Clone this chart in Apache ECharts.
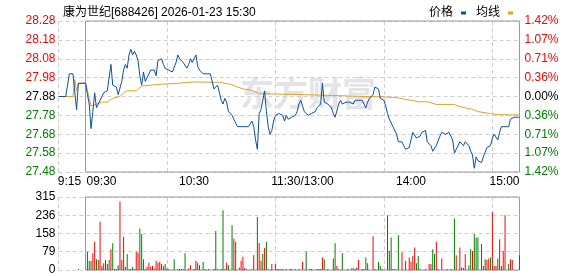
<!DOCTYPE html>
<html><head><meta charset="utf-8">
<script src="https://cdn.jsdelivr.net/npm/echarts@6/dist/echarts.min.js"></script>
<style>html,body{margin:0;padding:0;background:#fff}#c{width:578px;height:276px}</style>
</head><body><div id="c"></div>
<script>
// ---------- data ----------
const titleText = '康为世纪[688426] 2026-01-23 15:30';
const prevClose = 27.88;
const seriesNames = ['价格', '均线'];
const preLabel = '9:15';
const timeLabels = ['09:30', '10:30', '11:30/13:00', '14:00', '15:00'];
const priceTicks = ['27.48','27.58','27.68','27.78','27.88','27.98','28.08','28.18','28.28']; // bottom -> top
const pctTicks = ['1.42%','1.07%','0.71%','0.36%','0.00%','0.36%','0.71%','1.07%','1.42%']; // bottom -> top
const volTicks = ['0','79','158','236','315']; // bottom -> top

// one price per minute, starting 9:15 (index 15 = 09:30)
const price = [
27.88,27.88,27.88,27.88,27.88,27.88,28.00,28.00,28.00,28.00,27.81,27.95,27.95,27.95,27.95,
27.95,27.89,27.84,27.71,27.80,27.90,27.82,27.83,27.86,27.88,27.90,27.89,27.91,27.90,28.05,
27.94,27.94,27.93,27.89,27.88,27.96,28.02,28.05,28.03,28.10,28.13,28.10,28.12,28.10,28.07,
27.99,27.94,28.01,27.96,27.95,28.00,28.02,28.03,28.02,27.99,28.07,28.08,28.08,28.05,28.03,
28.02,28.02,28.02,28.01,28.00,28.06,28.10,28.08,28.07,28.06,28.06,28.03,28.05,28.08,28.06,
28.08,28.10,28.04,28.02,28.01,28.00,28.00,28.00,28.00,28.00,28.00,27.92,27.91,27.94,27.93,
27.86,27.84,27.87,27.85,27.80,27.79,27.78,27.77,27.74,27.72,27.72,27.72,27.72,27.72,27.72,
27.72,27.72,27.75,27.72,27.65,27.60,27.79,27.81,27.86,27.91,27.80,27.72,27.68,27.70,27.75,
27.78,27.79,27.79,27.78,27.78,27.75,27.78,27.76,27.77,27.77,27.77,27.78,27.80,27.84,27.86,
27.86,27.80,27.79,27.78,27.78,27.79,27.79,27.80,27.82,27.81,27.84,27.95,27.85,27.84,27.84,
27.83,27.82,27.79,27.77,27.76,27.84,27.86,27.84,27.84,27.85,27.84,27.85,27.84,27.84,27.86,
27.86,27.86,27.86,27.86,27.84,27.82,27.85,27.87,27.87,27.89,27.93,27.93,27.92,27.87,27.86,
27.86,27.83,27.79,27.76,27.74,27.72,27.71,27.68,27.64,27.64,27.64,27.64,27.60,27.60,27.61,
27.65,27.69,27.70,27.66,27.65,27.67,27.69,27.69,27.70,27.64,27.64,27.62,27.59,27.59,27.62,
27.63,27.67,27.69,27.70,27.68,27.69,27.69,27.67,27.65,27.58,27.60,27.61,27.64,27.63,27.62,
27.64,27.65,27.62,27.59,27.57,27.50,27.56,27.54,27.55,27.53,27.56,27.57,27.61,27.61,27.62,
27.66,27.68,27.67,27.65,27.69,27.72,27.72,27.72,27.71,27.72,27.76,27.77,27.77,27.77,27.77,
27.77
];

// average line, read at these minute indices (from 9:15)
const avgMinute = [0,8,9,10,11,15,16,18,21,24,27,30,34,36,38,43,46,51,57,66,75,89,95,102,106,109,111,134,153,170,182,188,192,196,199,204,206,209,219,221,225,229,232,236,239,243,255];
const avgValue  = [27.88,27.88,27.97,27.91,27.95,27.95,27.91,27.83,27.84,27.85,27.85,27.87,27.88,27.90,27.91,27.91,27.935,27.94,27.945,27.95,27.957,27.955,27.945,27.92,27.915,27.905,27.895,27.89,27.885,27.88,27.877,27.873,27.864,27.859,27.852,27.852,27.847,27.838,27.838,27.829,27.82,27.812,27.80,27.794,27.789,27.784,27.782];

// volume bars: minute index (from 9:15), value, direction (1 up/red, -1 down/green)
const volMinute = [11,16,17,18,19,20,21,22,23,24,25,26,27,28,29,30,31,32,33,34,35,36,37,38,39,40,41,42,43,44,45,46,47,48,49,50,51,52,53,54,55,56,57,58,59,60,61,64,66,67,68,69,70,72,73,75,76,77,78,80,81,83,86,87,88,90,91,92,93,94,96,97,98,100,101,102,103,104,107,108,110,111,112,113,114,115,116,118,120,121,122,123,124,126,128,129,131,133,135,137,139,140,143,144,145,146,147,149,152,153,154,155,157,160,162,163,164,165,166,168,169,170,171,174,175,177,178,179,182,183,184,185,186,188,190,192,194,195,196,197,198,199,200,203,205,206,207,208,209,210,212,215,217,219,220,222,223,224,225,227,228,229,230,231,232,234,235,236,237,238,239,240,241,242,243,244,245,246,247,249,250,251,255];
const volValue  = [4,79,39,39,72,122,46,43,208,17,29,43,26,43,90,115,4,4,21,294,43,143,14,69,4,4,14,4,79,74,179,155,46,4,14,31,14,17,6,40,31,36,26,17,26,6,4,46,4,4,4,4,72,6,21,4,40,31,20,34,4,4,4,168,4,4,258,4,31,21,193,136,122,11,40,57,9,4,4,64,229,117,40,69,95,122,4,26,26,4,4,4,4,4,4,4,4,4,36,79,4,4,4,4,4,54,46,4,50,115,17,4,72,4,7,9,4,11,43,4,4,54,29,146,4,34,17,4,236,83,140,4,4,150,77,40,54,36,60,97,29,60,4,4,26,26,89,69,122,4,50,4,4,222,64,97,11,9,69,21,89,82,155,140,140,112,17,46,43,50,54,249,17,17,50,133,17,82,236,26,46,43,64];
const volDir    = [1,-1,-1,-1,1,1,-1,1,1,1,-1,1,1,-1,1,-1,1,1,-1,1,1,1,1,-1,1,1,-1,1,1,1,-1,-1,1,1,1,1,1,1,1,1,1,1,1,1,-1,-1,-1,-1,-1,-1,-1,-1,-1,1,1,-1,1,-1,1,-1,1,1,-1,-1,1,1,-1,1,1,-1,-1,1,-1,1,1,1,1,1,1,1,-1,1,1,-1,1,-1,-1,1,1,1,1,1,1,1,1,1,1,1,1,-1,-1,1,1,1,1,1,-1,-1,-1,-1,1,-1,-1,1,-1,-1,1,1,1,1,1,-1,1,1,1,-1,-1,1,-1,-1,-1,1,1,-1,1,-1,1,1,1,1,-1,-1,1,1,1,1,-1,-1,1,1,1,-1,-1,-1,1,1,1,1,1,-1,-1,1,-1,-1,-1,-1,1,-1,1,1,-1,1,1,1,-1,1,1,1,1,-1,1,1,1];

// ---------- styles ----------
const C_BLUE = '#0b4fa3', C_ORANGE = '#e0a228', C_RED = '#ff0000', C_GREEN = '#008000';
const GRIDC = '#cfcfcf', BOXC = '#999999';
const FONT = "'Liberation Sans', 'Noto Sans CJK SC', sans-serif";
const PRE = 15; // minutes before 09:30 in the arrays

const priceData = price.map((p, i) => [i - PRE, (p - prevClose) * 100]);
const avgData = avgMinute.map((m, k) => [m - PRE, (avgValue[k] - prevClose) * 100]);
const upData = [], downData = [];
volMinute.forEach((m, k) => { (volDir[k] > 0 ? upData : downData).push([m - PRE, volValue[k]]); });

const dashed = { show: true, lineStyle: { color: GRIDC, type: [4, 3], width: 1 } };
const L = 58.5, R = 58.5, BL = 85.5;
const lbl = { fontSize: 12, fontFamily: FONT, color: '#000' };

// full-width axis (incl. 9:15 pre-market): grid lines, only the 9:15 label
const xFull = (gridIndex, showLabel) => ({
  type: 'value', gridIndex, min: -PRE, max: 240, interval: 60,
  axisLine: { show: false }, axisTick: { show: false }, splitLine: dashed,
  axisLabel: showLabel ? Object.assign({
    show: true, margin: 4, showMinLabel: true,
    formatter: v => Number(v) < 0 ? '{a|' + preLabel + '}' : '',
    rich: { a: Object.assign({ padding: [0, 0, 0, 22] }, lbl) }
  }, lbl) : { show: false }
});

const option = {
  animation: false,
  backgroundColor: '#fff',
  title: { text: titleText, left: 58, top: 2, textStyle: { fontSize: 12, fontWeight: 'normal', color: '#000', fontFamily: FONT } },
  legend: {
    data: seriesNames, right: 60, top: 2, align: 'right', icon: 'rect',
    itemWidth: 5, itemHeight: 3, itemGap: 10,
    textStyle: { fontSize: 12, color: '#000', fontFamily: FONT, padding: [0, 3, 0, 0] }
  },
  graphic: [{
    type: 'text', left: 240, top: 76, z: -1, silent: true,
    style: { text: '东方财富', fill: '#e4e4e8', font: "bold 34px 'Noto Sans CJK SC', sans-serif" }
  }],
  grid: [
    { left: L, right: R, top: 21, height: 151 },
    { left: BL, right: R, top: 21, height: 151, show: true, borderColor: BOXC, borderWidth: 1, backgroundColor: 'transparent', z: 1 },
    { left: L, right: R, top: 197, height: 73 },
    { left: BL, right: R, top: 197, height: 73, show: true, borderColor: BOXC, borderWidth: 1, backgroundColor: 'transparent', z: 1 }
  ],
  xAxis: [
    xFull(0, true),
    { type: 'value', gridIndex: 1, min: 0, max: 240, interval: 60,
      axisLine: { show: false }, axisTick: { show: false }, splitLine: { show: false },
      axisLabel: Object.assign({
        show: true, margin: 4, showMinLabel: true, showMaxLabel: true,
        formatter: v => { const i = Math.round(Number(v) / 60); const t = timeLabels[i];
          return i === 0 ? '{b|' + t + '}' : (i === timeLabels.length - 1 ? '{c|' + t + '}' : t); },
        rich: {
          b: Object.assign({ padding: [0, 0, 0, 32] }, lbl),
          c: Object.assign({ padding: [0, 30, 0, 0] }, lbl)
        }
      }, lbl) },
    xFull(2, false),
    { type: 'value', gridIndex: 3, min: 0, max: 240, show: false }
  ],
  yAxis: [
    { type: 'value', gridIndex: 0, min: -40, max: 40, interval: 10, position: 'left',
      axisLine: { show: false }, axisTick: { show: false }, splitLine: dashed,
      axisLabel: { margin: 3, fontSize: 12, fontFamily: FONT,
        formatter: v => priceTicks[Math.round((Number(v) + 40) / 10)],
        color: v => Number(v) > 0.5 ? C_RED : (Number(v) < -0.5 ? C_GREEN : '#000') } },
    { type: 'value', gridIndex: 0, min: -40, max: 40, interval: 10, position: 'right',
      axisLine: { show: false }, axisTick: { show: false }, splitLine: { show: false },
      axisLabel: { margin: 5, fontSize: 12, fontFamily: FONT,
        formatter: v => pctTicks[Math.round((Number(v) + 40) / 10)],
        color: v => Number(v) > 0.5 ? C_RED : (Number(v) < -0.5 ? C_GREEN : '#000') } },
    { type: 'value', gridIndex: 1, min: -40, max: 40, show: false },
    { type: 'value', gridIndex: 2, min: 0, max: 315, interval: 78.75,
      axisLine: { show: false }, axisTick: { show: false }, splitLine: dashed,
      axisLabel: { margin: 3, fontSize: 12, fontFamily: FONT, color: '#000',
        formatter: v => volTicks[Math.round(Number(v) / 78.75)] } },
    { type: 'value', gridIndex: 3, min: 0, max: 315, show: false }
  ],
  series: [
    { name: seriesNames[1], type: 'line', xAxisIndex: 0, yAxisIndex: 0, data: avgData,
      showSymbol: false, symbol: 'none', color: C_ORANGE, lineStyle: { width: 1, color: C_ORANGE }, z: 3 },
    { name: seriesNames[0], type: 'line', xAxisIndex: 0, yAxisIndex: 0, data: priceData,
      showSymbol: false, symbol: 'none', color: C_BLUE, lineStyle: { width: 1, color: C_BLUE }, z: 4 },
    { type: 'bar', xAxisIndex: 2, yAxisIndex: 3, data: upData, barWidth: 1, itemStyle: { color: C_RED }, z: 3 },
    { type: 'bar', xAxisIndex: 2, yAxisIndex: 3, data: downData, barWidth: 1, itemStyle: { color: C_GREEN }, barGap: '-100%', z: 3 }
  ]
};
const chart = echarts.init(document.getElementById('c'), null, { renderer: 'canvas' });
chart.setOption(option);
</script></body></html>
